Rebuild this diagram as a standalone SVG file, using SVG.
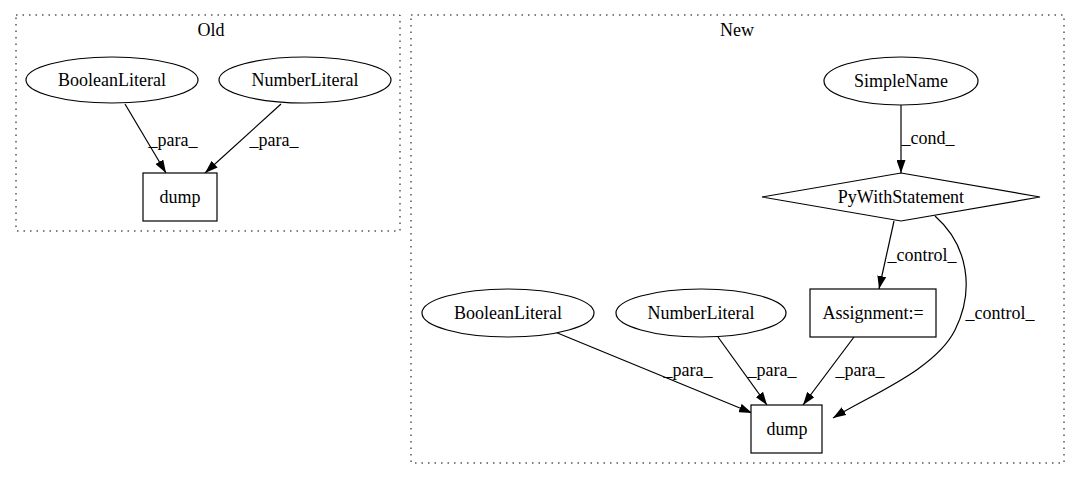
<svg xmlns="http://www.w3.org/2000/svg" width="1080" height="480" viewBox="0 0 1080 480" font-family="'Liberation Serif', 'Times New Roman', serif">
<defs>
<style>
text{font-family:'Liberation Serif','Times New Roman',serif;font-size:18px;fill:#000;text-anchor:middle}
.cl{fill:none;stroke:#000;stroke-width:1;stroke-dasharray:1.5,5}
.n{fill:#fff;stroke:#000;stroke-width:1.2}
.e{fill:none;stroke:#000;stroke-width:1.2;marker-end:url(#ah)}
</style>
<marker id="ah" viewBox="0 0 13 9" refX="13" refY="4.5" markerWidth="13" markerHeight="9" markerUnits="userSpaceOnUse" orient="auto">
<path d="M0,0 L13,4.5 L0,9 z" fill="#000"/>
</marker>
</defs>
<rect width="1080" height="480" fill="#fff"/>
<g id="cluster-old">
<rect class="cl" x="16" y="15" width="384" height="216"/>
<text x="211" y="36">Old</text>
</g>
<g id="cluster-new">
<rect class="cl" x="411" y="15" width="653" height="448"/>
<text x="737" y="36">New</text>
</g>
<g id="connectors">
<path class="e" d="M125,104 L166,173"/>
<text x="173" y="146">_para_</text>
<path class="e" d="M281,104 L205,173"/>
<text x="274" y="146">_para_</text>
<path class="e" d="M901,105 L901,173"/>
<text x="928" y="144">_cond_</text>
<path class="e" d="M894,221 L879,289"/>
<text x="922" y="261">_control_</text>
<path class="e" d="M935,216 C968,245 975,290 955,330 C935,370 870,395 833,418"/>
<text x="1000" y="319">_control_</text>
<path class="e" d="M555,332 L752,413"/>
<text x="688" y="376">_para_</text>
<path class="e" d="M718,337 L767,405"/>
<text x="772" y="376">_para_</text>
<path class="e" d="M854,337 L803,405"/>
<text x="860" y="376">_para_</text>
</g>
<g id="old-booleanliteral">
<ellipse class="n" cx="112" cy="80" rx="86" ry="23"/>
<text x="112" y="86">BooleanLiteral</text>
</g>
<g id="old-numberliteral">
<ellipse class="n" cx="305" cy="80" rx="86" ry="23"/>
<text x="305" y="86">NumberLiteral</text>
</g>
<g id="old-dump">
<rect class="n" x="143" y="173" width="74" height="48"/>
<text x="180" y="203">dump</text>
</g>
<g id="new-simplename">
<ellipse class="n" cx="901" cy="81" rx="77" ry="24"/>
<text x="901" y="87">SimpleName</text>
</g>
<g id="new-pywithstatement">
<polygon class="n" points="901,173 1040,197 901,221 762,197"/>
<text x="901" y="203">PyWithStatement</text>
</g>
<g id="new-assignment">
<rect class="n" x="810" y="289" width="126" height="48"/>
<text x="873" y="319">Assignment:=</text>
</g>
<g id="new-booleanliteral">
<ellipse class="n" cx="508" cy="313" rx="86" ry="24"/>
<text x="508" y="319">BooleanLiteral</text>
</g>
<g id="new-numberliteral">
<ellipse class="n" cx="701" cy="313" rx="85" ry="24"/>
<text x="701" y="319">NumberLiteral</text>
</g>
<g id="new-dump">
<rect class="n" x="751" y="405" width="71" height="48"/>
<text x="787" y="435">dump</text>
</g>
</svg>
